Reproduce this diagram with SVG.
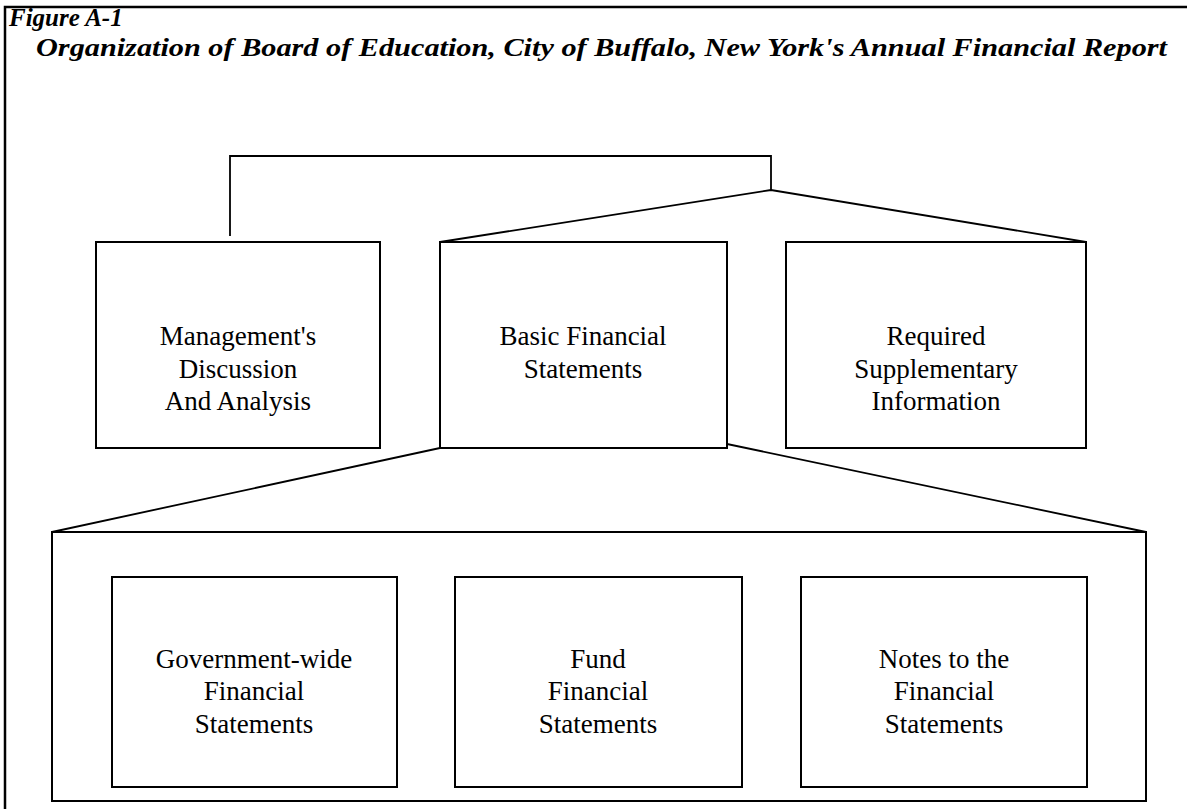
<svg xmlns="http://www.w3.org/2000/svg" width="1187" height="809" viewBox="0 0 1187 809">
<style>
.box{fill:none;stroke:#000;stroke-width:2}
.ln{fill:none;stroke:#000;stroke-width:1.8}
.t{font-family:"Liberation Serif","Times New Roman",serif;font-size:27px;fill:#000;text-anchor:middle}
.h{font-family:"Liberation Serif","Times New Roman",serif;font-weight:bold;font-style:italic;fill:#000}
</style>
<rect width="1187" height="809" fill="#fff"/>
<g id="frame">
<path d="M5,809 V7 H1187" fill="none" stroke="#000" stroke-width="2.5"/>
</g>
<g id="title">
<text class="h" x="9" y="26" font-size="25">Figure A-1</text>
<text class="h" x="36" y="56" font-size="26" textLength="1131" lengthAdjust="spacingAndGlyphs">Organization of Board of Education, City of Buffalo, New York's Annual Financial Report</text>
</g>
<g id="connectors">
<path class="ln" d="M230,236 V156 H771 V190"/>
<path class="ln" d="M440,242 L771,190 L1086,242"/>
<path class="ln" d="M52,532 L440,448"/>
<path class="ln" d="M727,444 L1146,532"/>
</g>
<g id="mda">
<rect class="box" x="96" y="242" width="284" height="206"/>
<text class="t" x="238" y="345">Management's</text>
<text class="t" x="238" y="378">Discussion</text>
<text class="t" x="238" y="410">And Analysis</text>
</g>
<g id="bfs">
<rect class="box" x="440" y="242" width="287" height="206"/>
<text class="t" x="583" y="345">Basic Financial</text>
<text class="t" x="583" y="378">Statements</text>
</g>
<g id="rsi">
<rect class="box" x="786" y="242" width="300" height="206"/>
<text class="t" x="936" y="345">Required</text>
<text class="t" x="936" y="378">Supplementary</text>
<text class="t" x="936" y="410">Information</text>
</g>
<g id="bfs-group">
<rect class="box" x="52" y="532" width="1094" height="269"/>
</g>
<g id="gwfs">
<rect class="box" x="112" y="577" width="285" height="210"/>
<text class="t" x="254" y="668">Government-wide</text>
<text class="t" x="254" y="700">Financial</text>
<text class="t" x="254" y="733">Statements</text>
</g>
<g id="ffs">
<rect class="box" x="455" y="577" width="287" height="210"/>
<text class="t" x="598" y="668">Fund</text>
<text class="t" x="598" y="700">Financial</text>
<text class="t" x="598" y="733">Statements</text>
</g>
<g id="notes">
<rect class="box" x="801" y="577" width="286" height="210"/>
<text class="t" x="944" y="668">Notes to the</text>
<text class="t" x="944" y="700">Financial</text>
<text class="t" x="944" y="733">Statements</text>
</g>
</svg>
